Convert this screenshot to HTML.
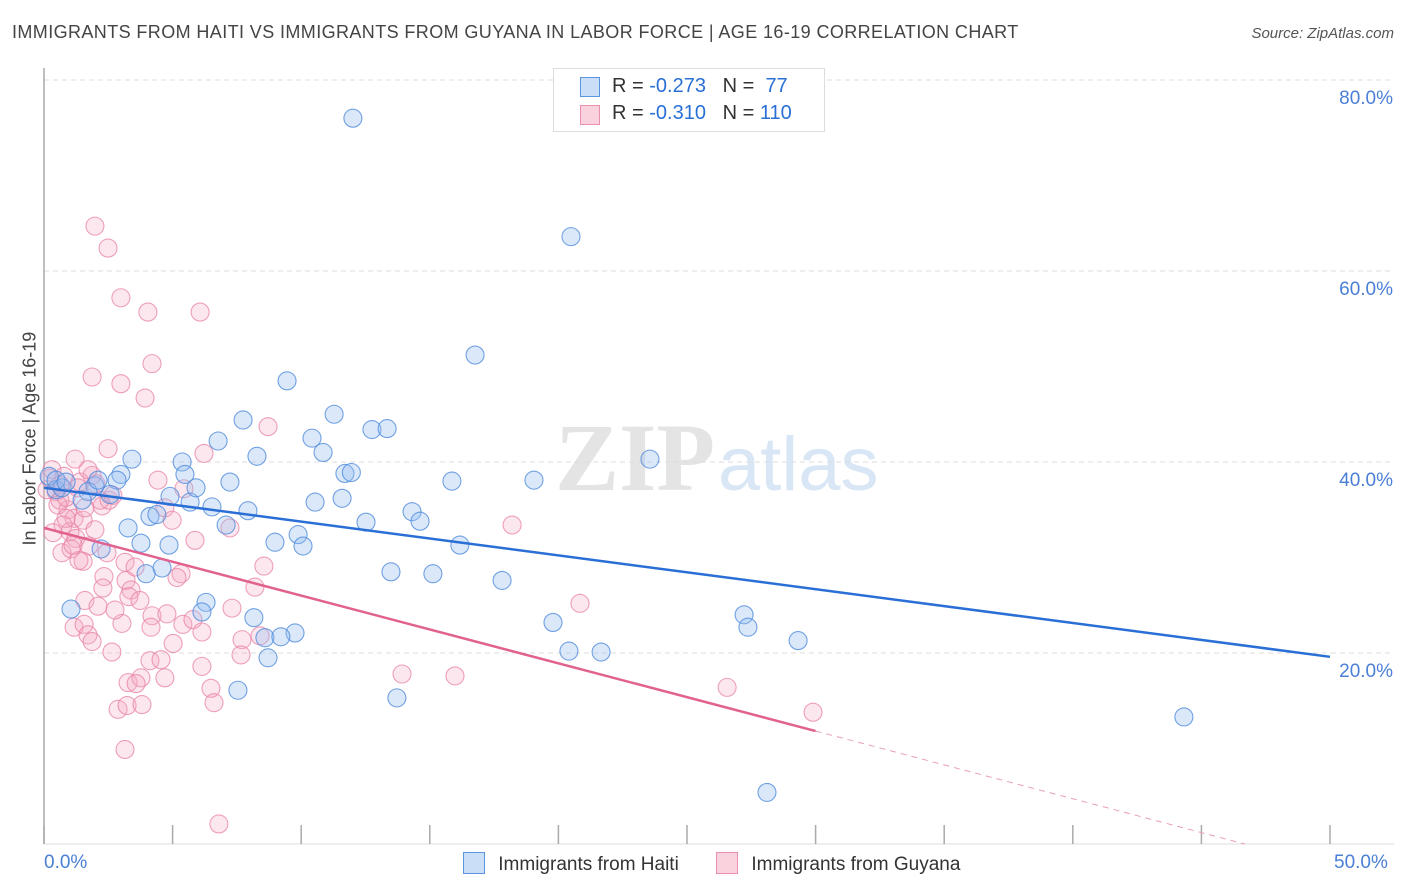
<!DOCTYPE html>
<html><head><meta charset="utf-8"><style>
body{margin:0;background:#fff;font-family:"Liberation Sans",sans-serif;}
#wrap{position:relative;width:1406px;height:892px;overflow:hidden;}
.t{position:absolute;white-space:nowrap;}
</style></head><body>
<div id="wrap">
<div class="t" style="left:12px;top:22px;font-size:18px;color:#444;letter-spacing:0.4px;">IMMIGRANTS FROM HAITI VS IMMIGRANTS FROM GUYANA IN LABOR FORCE | AGE 16-19 CORRELATION CHART</div>
<div class="t" style="right:12px;top:25px;font-size:15px;color:#555;font-style:italic;">Source: ZipAtlas.com</div>
<svg id="svg" width="1406" height="892" style="position:absolute;left:0;top:0"></svg>
</div>
<script>
const haitiX=[12.01,20.49,16.76,9.45,11.28,7.74,6.77,12.75,13.34,10.42,10.85,8.28,5.37,3.42,2.99,11.7,11.95,15.86,19.05,23.56,5.48,7.23,2.84,1.98,1.71,0.2,0.47,0.70,10.54,11.59,6.53,7.93,5.68,14.31,14.62,12.52,4.12,4.39,7.08,3.27,9.88,8.98,10.07,16.17,3.77,4.86,2.22,4.59,3.97,13.49,15.12,17.81,6.30,1.05,6.14,8.16,19.79,27.22,27.37,29.32,9.76,8.59,9.21,8.71,20.41,21.66,7.54,13.72,44.32,28.11,0.47,1.48,2.57,0.86,4.90,5.91,2.10];
const haitiY=[76.0,63.6,51.2,48.5,45.0,44.4,42.2,43.4,43.5,42.5,41.0,40.6,40.0,40.3,38.7,38.8,38.9,38.0,38.1,40.3,38.7,37.9,38.1,37.5,36.9,38.5,37.1,37.3,35.8,36.2,35.3,34.9,35.8,34.8,33.8,33.7,34.3,34.5,33.4,33.1,32.4,31.6,31.2,31.3,31.5,31.3,30.9,28.9,28.3,28.5,28.3,27.6,25.3,24.6,24.3,23.7,23.2,24.0,22.7,21.3,22.1,21.6,21.7,19.5,20.2,20.1,16.1,15.3,13.3,5.4,38.1,36.0,36.6,37.9,36.4,37.3,38.1];
const guyanaX=[1.98,2.49,2.99,4.04,6.07,4.20,1.87,2.99,3.93,8.71,2.49,6.22,1.21,1.87,2.02,4.43,5.44,0.23,0.47,0.62,0.93,1.17,1.52,2.26,2.53,0.74,1.01,1.24,0.70,1.05,1.75,2.45,1.52,1.36,4.70,4.98,7.23,18.20,3.15,3.54,2.33,3.19,1.59,2.29,2.10,3.38,3.30,5.33,5.17,8.55,8.20,7.31,20.84,4.20,4.78,5.40,5.79,1.17,1.56,1.71,1.87,3.03,4.16,8.40,7.70,5.02,6.14,2.64,4.12,4.55,7.66,6.14,3.27,3.77,4.70,3.58,6.49,13.92,15.98,26.56,2.88,3.23,3.81,6.61,29.90,3.15,6.80,0.54,0.12,0.31,0.78,0.86,1.40,1.71,2.18,2.68,1.13,0.35,0.62,1.98,1.59,3.73,2.76,5.87,0.86,1.32];
const guyanaY=[64.7,62.4,57.2,55.7,55.7,50.3,48.9,48.2,46.7,43.7,41.4,40.9,40.3,38.6,37.7,38.1,37.2,38.3,36.9,36.0,35.0,34.1,33.9,35.4,36.0,33.4,32.7,32.0,30.5,30.9,31.2,30.5,29.6,29.7,35.2,33.9,33.1,33.4,29.5,29.0,28.0,27.6,25.5,26.8,24.9,26.6,25.9,28.3,27.9,29.1,26.9,24.7,25.2,23.9,24.1,23.0,23.5,22.7,23.0,21.9,21.2,23.1,22.7,21.8,21.4,21.0,22.2,20.1,19.2,19.3,19.8,18.6,16.9,17.4,17.4,16.8,16.3,17.8,17.6,16.4,14.1,14.5,14.6,14.8,13.8,9.9,2.1,35.5,37.1,39.2,38.5,34.1,37.9,39.2,36.0,36.5,31.3,32.6,37.6,32.9,35.2,25.5,24.5,31.8,36.3,37.3];
const yTicks=[20,40,60,80];
const yTickLabels=["20.0%","40.0%","60.0%","80.0%"];
const xTicks=[0,5,10,15,20,25,30,35,40,45,50];
const haitiTrend=[37.3,19.6];
const guyanaTrend=[33.1,0.709,30];

const X0=44,X1=1330,Y0=844,YT=80;
const sx=v=>X0+(v/50)*(X1-X0);
const sy=v=>Y0-(v/80)*(Y0-YT);
const svg=document.getElementById('svg');
const NS='http://www.w3.org/2000/svg';
function mk(tag,attrs,name){const e=document.createElementNS(NS,tag);for(const k in attrs)e.setAttribute(k,attrs[k]);


svg.appendChild(e);return e;}
let wm=mk('text',{x:555,y:490,'font-size':96,'font-family':'Liberation Serif,serif',fill:'#e4e4e4','font-weight':'bold'},'watermark-zip');wm.textContent='ZIP';
let wm2=mk('text',{x:718,y:490,'font-size':76,'font-family':'Liberation Sans,sans-serif',fill:'#d8e6f5'},'watermark-atlas');wm2.textContent='atlas';
yTicks.forEach((t,i)=>{
  mk('line',{x1:X0,x2:1394,y1:sy(t),y2:sy(t),stroke:'#ddd','stroke-dasharray':'5,4'},'y-gridline');
  const tx=mk('text',{x:1393,y:sy(t)+24,'text-anchor':'end','font-size':19,fill:'#4a7fd6','font-family':'Liberation Sans,sans-serif'},'y-tick-label');tx.textContent=yTickLabels[i];
});
mk('line',{x1:X0,x2:X0,y1:68,y2:Y0,stroke:'#aaa','stroke-width':1.5},'y-axis');
mk('line',{x1:X0,x2:1394,y1:Y0,y2:Y0,stroke:'#ddd'},'x-axis');
xTicks.forEach(t=>mk('line',{x1:sx(t),x2:sx(t),y1:825,y2:Y0,stroke:'#aaa','stroke-width':1.5},'x-tick'));
function pts(xs,ys,fill,stroke,name){xs.forEach((x,i)=>mk('circle',{cx:sx(x),cy:sy(ys[i]),r:9,fill:fill,stroke:stroke,'stroke-width':1.1},name));}
pts(guyanaX,guyanaY,'rgba(245,170,195,0.28)','rgba(232,130,165,0.75)','guyana-point');
pts(haitiX,haitiY,'rgba(150,190,240,0.35)','rgba(80,140,220,0.8)','haiti-point');
mk('line',{x1:sx(0),y1:sy(haitiTrend[0]),x2:sx(50),y2:sy(haitiTrend[1]),stroke:'#2a6fd6','stroke-width':2.5},'haiti-trendline');
const gy=x=>guyanaTrend[0]-guyanaTrend[1]*x;
mk('line',{x1:sx(0),y1:sy(gy(0)),x2:sx(guyanaTrend[2]),y2:sy(gy(guyanaTrend[2])),stroke:'#e2628f','stroke-width':2.5},'guyana-trendline');
const xe=guyanaTrend[0]/guyanaTrend[1];
mk('line',{x1:sx(guyanaTrend[2]),y1:sy(gy(guyanaTrend[2])),x2:sx(xe),y2:sy(0),stroke:'#e8a0b8','stroke-width':1,'stroke-dasharray':'6,5'},'guyana-trend-extension');
</script>
<div class="t" style="left:-60px;top:445px;width:180px;text-align:center;font-size:18px;color:#444;transform:rotate(-90deg);">In Labor Force | Age 16-19</div>
<div class="t" style="left:44px;top:852px;font-size:19px;color:#4a7fd6;">0.0%</div>
<div class="t" style="left:1334px;top:852px;font-size:19px;color:#4a7fd6;">50.0%</div>
<div style="position:absolute;left:553px;top:68px;width:270px;height:62px;border:1px solid #ddd;background:#fff;font-size:20px;color:#333;">
  <div style="position:absolute;left:26px;top:8px;width:18px;height:18px;background:rgba(150,190,240,0.5);border:1px solid #5c95df;"></div>
  <div class="t" style="left:58px;top:6px;">R = <span style="color:#2a6fd6">-0.273</span>&nbsp;&nbsp;&nbsp;N = &nbsp;<span style="color:#2a6fd6">77</span></div>
  <div style="position:absolute;left:26px;top:36px;width:18px;height:18px;background:rgba(245,165,190,0.5);border:1px solid #eb8fae;"></div>
  <div class="t" style="left:58px;top:33px;">R = <span style="color:#2a6fd6">-0.310</span>&nbsp;&nbsp;&nbsp;N = <span style="color:#2a6fd6">110</span></div>
</div>
<div style="position:absolute;left:463px;top:852px;font-size:19px;color:#333;">
  <span style="display:inline-block;width:20px;height:20px;background:rgba(150,190,240,0.5);border:1px solid #5c95df;vertical-align:-4px;"></span>
  <span style="margin-left:8px;margin-right:32px;">Immigrants from Haiti</span>
  <span style="display:inline-block;width:20px;height:20px;background:rgba(245,165,190,0.5);border:1px solid #eb8fae;vertical-align:-4px;"></span>
  <span style="margin-left:8px;">Immigrants from Guyana</span>
</div>
</body></html>
